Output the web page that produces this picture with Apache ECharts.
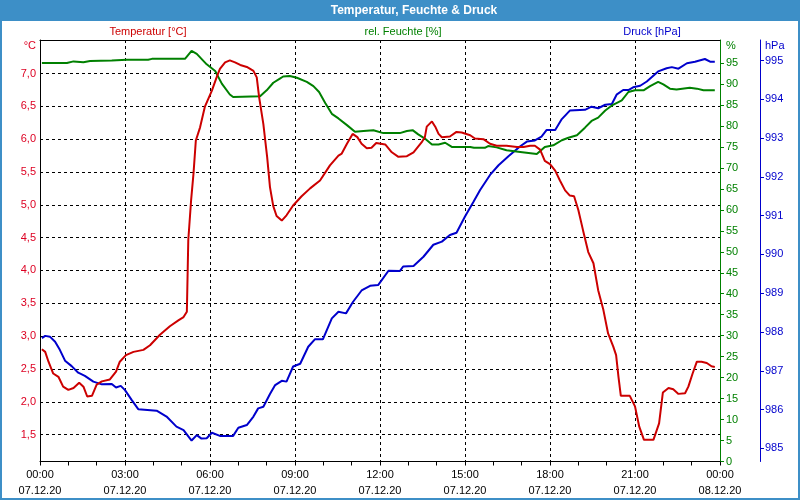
<!DOCTYPE html>
<html><head><meta charset="utf-8">
<script src="https://cdn.jsdelivr.net/npm/echarts@6/dist/echarts.min.js"></script>
<style>html,body{margin:0;padding:0;background:#fff}#c{width:800px;height:500px}</style>
</head><body><div id="c"></div>
<script>
// ---- data (times HH:MM on 07.12.20) ----
const tempTimes = ['00:04','00:11','00:18','00:28','00:39','00:49','01:00','01:11','01:23','01:32','01:40','01:50','02:00','02:11','02:28','02:41','02:49','03:02','03:18','03:39','03:53','04:14','04:35','04:53','05:04','05:11','05:14','05:20','05:25','05:30','05:39','05:49','06:04','06:14','06:21','06:32','06:42','06:53','07:04','07:18','07:32','07:39','07:44','07:53','08:01','08:07','08:14','08:21','08:32','08:42','08:56','09:14','09:32','09:53','10:14','10:32','10:39','10:50','11:02','11:12','11:21','11:32','11:42','11:52','12:11','12:25','12:39','12:57','13:11','13:28','13:35','13:39','13:50','13:57','14:04','14:11','14:28','14:42','14:53','15:11','15:21','15:39','15:53','16:07','16:28','16:50','17:04','17:18','17:28','17:39','17:49','18:00','18:11','18:21','18:32','18:42','18:51','19:00','19:10','19:21','19:32','19:42','19:53','20:03','20:14','20:20','20:25','20:30','20:49','21:00','21:09','21:19','21:39','21:51','21:59','22:11','22:21','22:32','22:46','22:53','23:02','23:11','23:21','23:32','23:42','23:49'];
const tempValues = [2.80,2.76,2.61,2.43,2.38,2.23,2.18,2.21,2.29,2.23,2.08,2.09,2.26,2.31,2.34,2.46,2.61,2.71,2.76,2.79,2.86,3.02,3.15,3.24,3.29,3.37,4.46,5.07,5.47,5.98,6.18,6.49,6.74,6.94,7.07,7.17,7.20,7.17,7.13,7.10,7.04,6.94,6.64,6.23,5.73,5.27,4.98,4.83,4.76,4.84,4.99,5.13,5.25,5.37,5.60,5.75,5.78,5.93,6.08,6.03,5.93,5.86,5.87,5.94,5.92,5.80,5.73,5.74,5.80,5.95,6.03,6.19,6.27,6.19,6.08,6.03,6.04,6.11,6.10,6.06,6.01,6.00,5.93,5.90,5.90,5.88,5.88,5.90,5.90,5.84,5.67,5.62,5.52,5.37,5.22,5.14,5.13,4.92,4.61,4.28,4.11,3.70,3.40,3.04,2.84,2.71,2.38,2.09,2.09,1.93,1.62,1.42,1.42,1.67,2.14,2.21,2.19,2.12,2.13,2.23,2.43,2.61,2.61,2.59,2.54,2.53];

const humTimes = ['00:04','00:57','01:11','01:32','01:46','02:32','03:04','03:49','03:57','05:07','05:21','05:32','05:53','06:11','06:25','06:42','06:49','07:46','08:00','08:14','08:28','08:35','08:49','09:04','09:25','09:39','09:51','10:04','10:18','10:32','10:50','11:07','11:25','11:46','12:07','12:42','12:57','13:09','13:21','13:35','13:50','14:04','14:18','14:32','15:11','15:19','15:42','15:49','16:07','16:28','16:57','17:32','17:49','18:07','18:25','18:39','18:57','19:14','19:28','19:42','19:57','20:11','20:25','20:32','20:46','21:00','21:18','21:32','21:49','22:00','22:14','22:28','22:56','23:11','23:25','23:49'];
const humValues = [95.0,95.0,95.4,95.2,95.5,95.6,95.8,95.8,96.0,96.0,97.9,97.2,94.7,93.1,90.1,87.5,86.9,87.1,88.5,90.3,91.3,91.8,91.9,91.5,90.5,89.5,88.1,85.5,82.9,81.8,80.2,78.6,78.8,79.0,78.3,78.3,78.8,79.0,78.0,77.0,75.6,75.6,76.0,75.0,75.0,74.8,74.8,75.2,74.9,74.2,73.8,73.3,75.0,75.4,76.6,77.2,77.8,79.6,81.2,82.0,83.7,84.9,85.7,86.1,88.1,88.5,88.5,89.5,90.5,89.9,88.9,88.7,89.1,88.9,88.5,88.5];

const presTimes = ['00:04','00:11','00:21','00:32','00:42','00:53','01:07','01:21','01:35','01:53','02:11','02:32','02:41','02:51','03:00','03:14','03:28','04:07','04:28','04:49','05:04','05:21','05:32','05:42','05:53','06:04','06:21','06:49','07:00','07:18','07:32','07:42','07:53','08:07','08:18','08:32','08:42','08:56','09:11','09:28','09:42','09:59','10:18','10:32','10:48','11:03','11:21','11:39','11:56','12:18','12:42','12:49','13:11','13:32','13:53','14:11','14:28','14:42','15:00','15:18','15:32','15:53','16:11','16:32','16:57','17:11','17:28','17:42','17:53','18:11','18:25','18:42','19:14','19:28','19:42','19:57','20:11','20:21','20:35','20:46','20:56','21:11','21:25','21:49','22:07','22:18','22:32','22:50','23:07','23:28','23:39','23:49'];
const presValues = [987.84,987.90,987.88,987.75,987.54,987.26,987.12,986.95,986.87,986.72,986.65,986.66,986.57,986.61,986.50,986.25,986.01,985.97,985.82,985.56,985.47,985.20,985.34,985.25,985.26,985.40,985.32,985.32,985.53,985.60,985.82,986.03,986.07,986.40,986.63,986.74,986.72,987.11,987.18,987.62,987.81,987.81,988.35,988.52,988.48,988.78,989.07,989.19,989.21,989.58,989.57,989.69,989.70,989.94,990.25,990.33,990.50,990.56,990.98,991.36,991.66,992.05,992.30,992.53,992.79,992.91,992.94,993.04,993.21,993.21,993.49,993.71,993.73,993.81,993.77,993.86,993.88,994.12,994.24,994.24,994.31,994.35,994.46,994.72,994.80,994.83,994.79,994.93,994.97,995.04,994.97,994.97];

const timeLabels = ['00:00','03:00','06:00','09:00','12:00','15:00','18:00','21:00','00:00'];
const dateLabels = ['07.12.20','07.12.20','07.12.20','07.12.20','07.12.20','07.12.20','07.12.20','07.12.20','08.12.20'];
const tempTicks = [1.5,2.0,2.5,3.0,3.5,4.0,4.5,5.0,5.5,6.0,6.5,7.0];
const humTicks = [0,5,10,15,20,25,30,35,40,45,50,55,60,65,70,75,80,85,90,95];
const presTicks = [985,986,987,988,989,990,991,992,993,994,995];

function toHours(t){const p=t.split(':');return (+p[0])+(+p[1])/60;}
function zip(ts,vs){const n=Math.min(ts.length,vs.length);const o=[];for(let i=0;i<n;i++)o.push([toHours(ts[i]),vs[i]]);return o;}

const RED='#cc0000', GREEN='#008000', BLUE='#0000cc', BAR='#3d8fc7';
const FONT='"Liberation Sans", Arial, sans-serif';
const chart = echarts.init(document.getElementById('c'), null, {renderer:'canvas'});
chart.setOption({
  animation:false,
  backgroundColor:'#ffffff',
  textStyle:{fontFamily:FONT, fontSize:11},
  grid:{left:40, right:80, top:40, bottom:38.5, containLabel:false},
  xAxis:[{
    type:'value', min:0, max:24, interval:3,
    axisLine:{show:true, onZero:false, lineStyle:{color:'#000', width:1}},
    axisTick:{show:true, inside:false, length:4, lineStyle:{color:'#000'}},
    minorTick:{show:true, splitNumber:3, length:4, lineStyle:{color:'#000'}},
    splitLine:{show:true, lineStyle:{color:'#000', type:[3,3], width:1}},
    axisLabel:{color:'#000', fontSize:11, fontFamily:FONT, margin:5, lineHeight:16,
      formatter:function(v){const i=Math.round(v/3);return timeLabels[i]+'\n'+dateLabels[i];}}
  },{
    type:'value', position:'top', min:0, max:24,
    axisLine:{show:true, onZero:false, lineStyle:{color:'#000', width:1}},
    axisTick:{show:false}, axisLabel:{show:false}, splitLine:{show:false}
  }],
  yAxis:[{
    type:'value', position:'left', min:1.09, max:7.51,
    axisLine:{show:true, onZero:false, lineStyle:{color:'#000'}},
    axisTick:{show:false, customValues:tempTicks},
    axisLabel:{color:'#dd0022', fontSize:11, fontFamily:FONT, margin:4, customValues:tempTicks,
      formatter:function(v){return v.toFixed(1).replace('.',',');}},
    splitLine:{show:true, lineStyle:{color:'#000', type:[3,3], width:1}}
  },{
    type:'value', position:'right', offset:0, min:0, max:100.5,
    axisLine:{show:true, onZero:false, lineStyle:{color:GREEN}},
    axisTick:{show:true, length:4, customValues:humTicks, lineStyle:{color:GREEN}},
    axisLabel:{color:GREEN, fontSize:11, fontFamily:FONT, margin:6, customValues:humTicks},
    splitLine:{show:false}
  },{
    type:'value', position:'right', offset:40, min:984.66, max:995.53,
    axisLine:{show:true, onZero:false, lineStyle:{color:BLUE}},
    axisTick:{show:true, length:4, customValues:presTicks, lineStyle:{color:BLUE}},
    axisLabel:{color:BLUE, fontSize:11, fontFamily:FONT, margin:5, customValues:presTicks},
    splitLine:{show:false}
  }],
  series:[
    {name:'Temperatur [°C]', type:'line', yAxisIndex:0, data:zip(tempTimes,tempValues), showSymbol:false, lineStyle:{color:RED, width:2}, itemStyle:{color:RED}, z:4},
    {name:'rel. Feuchte [%]', type:'line', yAxisIndex:1, data:zip(humTimes,humValues), showSymbol:false, lineStyle:{color:GREEN, width:2}, itemStyle:{color:GREEN}, z:3},
    {name:'Druck [hPa]', type:'line', yAxisIndex:2, data:zip(presTimes,presValues), showSymbol:false, lineStyle:{color:BLUE, width:2}, itemStyle:{color:BLUE}, z:2}
  ],
  graphic:[
    {type:'rect', silent:true, z:100, shape:{x:0,y:0,width:800,height:21}, style:{fill:BAR}},
    {type:'rect', silent:true, z:100, shape:{x:1,y:1,width:798,height:498}, style:{fill:null, stroke:BAR, lineWidth:2}},
    {type:'text', silent:true, z:101, x:414, y:11, style:{text:'Temperatur, Feuchte & Druck', fill:'#ffffff', font:'bold 12px '+FONT, align:'center', verticalAlign:'middle'}},
    {type:'text', silent:true, z:101, x:148, y:32, style:{text:'Temperatur [°C]', fill:RED, font:'11px '+FONT, align:'center', verticalAlign:'middle'}},
    {type:'text', silent:true, z:101, x:403, y:32, style:{text:'rel. Feuchte [%]', fill:GREEN, font:'11px '+FONT, align:'center', verticalAlign:'middle'}},
    {type:'text', silent:true, z:101, x:652, y:32, style:{text:'Druck [hPa]', fill:BLUE, font:'11px '+FONT, align:'center', verticalAlign:'middle'}},
    {type:'text', silent:true, z:101, x:36, y:46, style:{text:'°C', fill:'#dd0022', font:'11px '+FONT, align:'right', verticalAlign:'middle'}},
    {type:'text', silent:true, z:101, x:726, y:46, style:{text:'%', fill:GREEN, font:'11px '+FONT, align:'left', verticalAlign:'middle'}},
    {type:'text', silent:true, z:101, x:765, y:46, style:{text:'hPa', fill:BLUE, font:'11px '+FONT, align:'left', verticalAlign:'middle'}}
  ]
});
</script>
</body></html>
